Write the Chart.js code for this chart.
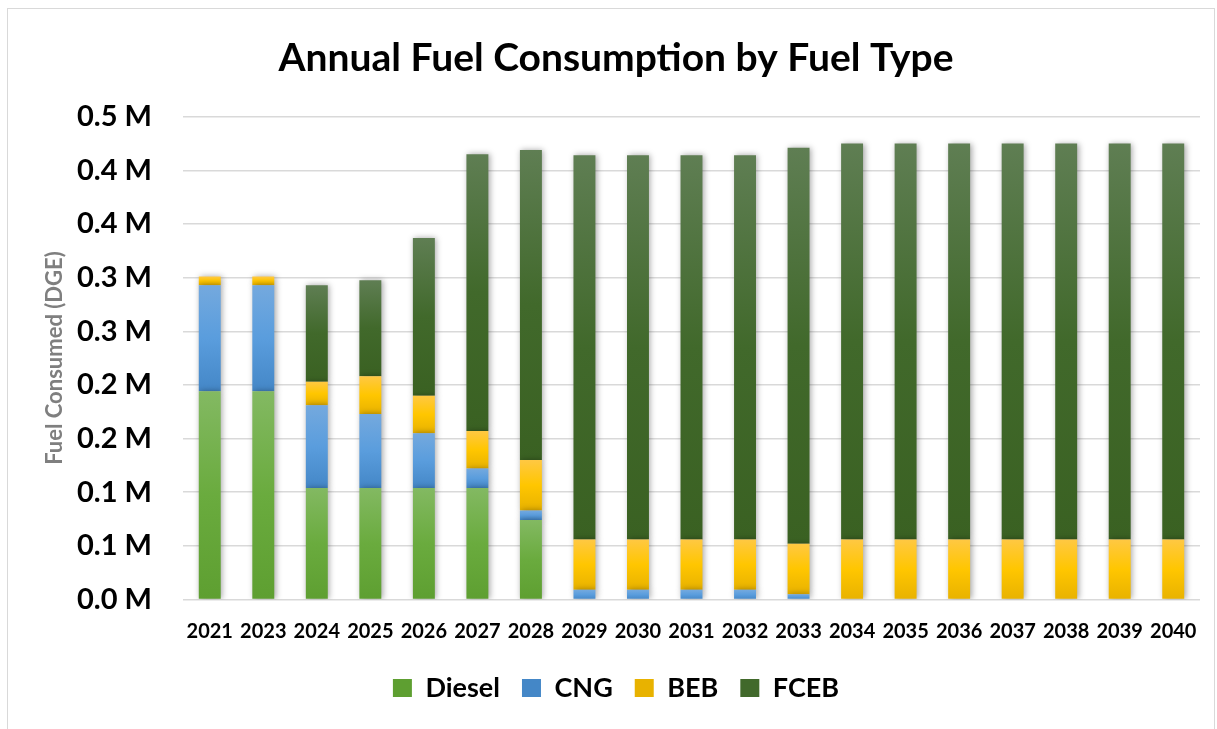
<!DOCTYPE html>
<html>
<head>
<meta charset="utf-8">
<script src="https://cdn.jsdelivr.net/npm/chart.js@4"></script>
<style>
  html, body { margin: 0; padding: 0; background: #fff; }
  #wrap { position: relative; width: 1217px; height: 729px; overflow: hidden; }
  #frame { position: absolute; left: 7px; top: 8px; width: 1206px; height: 740px; border: 1px solid #d9d9d9; pointer-events: none; }
  canvas { position: absolute; left: 0; top: 0; }
</style>
</head>
<body>
<div id="wrap">
  <canvas id="fuelChart" width="1217" height="729"></canvas>
  <div id="frame"></div>
</div>
<script>
const years = ['2021', '2023', '2024', '2025', '2026', '2027', '2028', '2029', '2030', '2031',
  '2032', '2033', '2034', '2035', '2036', '2037', '2038', '2039', '2040'];

// fuel consumed, DGE
const dieselData = [194000, 194000, 104000, 104000, 104000, 104000, 74000, 0, 0, 0,
  0, 0, 0, 0, 0, 0, 0, 0, 0];
const cngData = [99000, 99000, 77000, 69000, 51000, 18000, 9000, 9000, 9000, 9000,
  9000, 5000, 0, 0, 0, 0, 0, 0, 0];
const bebData = [8000, 8000, 22000, 35000, 35000, 35000, 47000, 47000, 47000, 47000,
  47000, 47000, 56000, 56000, 56000, 56000, 56000, 56000, 56000];
const fcebData = [0, 0, 90000, 89500, 147000, 258000, 289000, 358000, 358000, 358000,
  358000, 369000, 369000, 369000, 369000, 369000, 369000, 369000, 369000];

const yTickLabels = ['0.0 M', '0.1 M', '0.1 M', '0.2 M', '0.2 M', '0.3 M', '0.3 M', '0.4 M', '0.4 M', '0.5 M'];

const FONT = "Lato, 'Open Sans', sans-serif";

// office style vertical gradient per bar segment
function segFill(stops) {
  return function (ctx) {
    if (ctx.type !== 'data') return stops[1];
    const chart = ctx.chart;
    const y = chart.scales.y;
    if (!y) return stops[1];
    let base = 0;
    for (let d = 0; d < ctx.datasetIndex; d++) {
      base += chart.data.datasets[d].data[ctx.dataIndex];
    }
    const y0 = y.getPixelForValue(base + ctx.raw);
    const y1 = y.getPixelForValue(base);
    if (!isFinite(y0) || !isFinite(y1) || Math.abs(y1 - y0) < 0.5) return stops[1];
    const g = chart.ctx.createLinearGradient(0, y0, 0, y1);
    g.addColorStop(0, stops[0]);
    g.addColorStop(0.5, stops[1]);
    g.addColorStop(1, stops[2]);
    return g;
  };
}

const barShadow = {
  id: 'barShadow',
  beforeDatasetsDraw(chart) {
    const c = chart.ctx;
    c.save();
    c.shadowColor = 'rgba(0,0,0,0.35)';
    c.shadowBlur = 6;
    c.shadowOffsetX = 1.5;
    c.shadowOffsetY = 0;
  },
  afterDatasetsDraw(chart) {
    chart.ctx.restore();
  }
};

new Chart(document.getElementById('fuelChart'), {
  type: 'bar',
  data: {
    labels: years,
    datasets: [
      { label: 'Diesel', data: dieselData, backgroundColor: segFill(['#83b962', '#6aab3e', '#5e9f31']) },
      { label: 'CNG', data: cngData, backgroundColor: segFill(['#74a9de', '#5a9ddd', '#4487c7']) },
      { label: 'BEB', data: bebData, backgroundColor: segFill(['#ffc843', '#ffc600', '#e8b200']) },
      { label: 'FCEB', data: fcebData, backgroundColor: segFill(['#5f7e53', '#41692b', '#3a6122']) }
    ]
  },
  options: {
    responsive: false,
    devicePixelRatio: 1,
    animation: false,
    barPercentage: 0.41,
    categoryPercentage: 1,
    layout: { padding: { left: 32, right: 17, top: 0, bottom: 17.5 } },
    plugins: {
      title: {
        display: true,
        text: 'Annual Fuel Consumption by Fuel Type',
        color: '#000',
        font: { family: FONT, size: 39, weight: 'bold' },
        padding: { top: 34.6, bottom: 35.3 }
      },
      legend: {
        position: 'bottom',
        labels: {
          color: '#000',
          font: { family: FONT, size: 27, weight: 'bold' },
          boxWidth: 19,
          boxHeight: 18,
          padding: 22
        }
      },
      tooltip: { enabled: false }
    },
    scales: {
      x: {
        stacked: true,
        grid: { display: false, drawTicks: false },
        border: { display: false },
        ticks: {
          color: '#000',
          font: { family: FONT, size: 20, weight: 'bold' },
          padding: 20,
          maxRotation: 0,
          autoSkip: false
        },
        afterFit(scale) { scale.height = 53; }
      },
      y: {
        stacked: true,
        min: 0,
        max: 450000,
        grid: { color: '#d9d9d9', lineWidth: 1.5, drawTicks: false },
        border: { display: false },
        ticks: {
          stepSize: 50000,
          color: '#000',
          font: { family: FONT, size: 29, weight: 'bold' },
          padding: 31,
          callback: (v, i) => yTickLabels[i]
        },
        title: {
          display: true,
          text: 'Fuel Consumed (DGE)',
          color: '#7f7f7f',
          font: { family: FONT, size: 22, weight: 'bold' },
          padding: { top: 10, bottom: 0 }
        },
        afterFit(scale) { scale.width = 151; }
      }
    }
  },
  plugins: [barShadow]
});
</script>
</body>
</html>
